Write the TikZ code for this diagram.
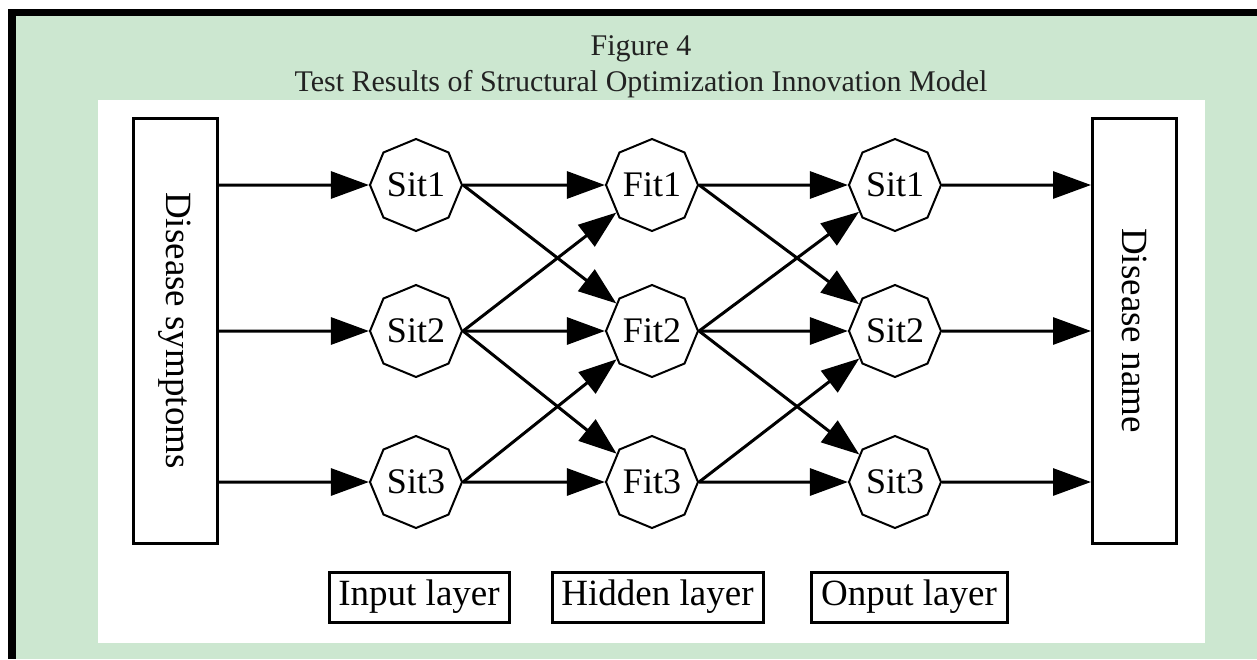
\documentclass[tikz,border=0pt]{standalone}
\usepackage{fontspec}
\setmainfont{Liberation Serif}
\usetikzlibrary{arrows.meta,shapes.geometric}

\definecolor{panelgreen}{RGB}{204,231,208}
\definecolor{titleink}{RGB}{34,34,34}

\tikzset{
    unit/.style={draw, line width=2pt, regular polygon, regular polygon sides=8,
        shape border rotate=22.5, minimum size=92pt, inner sep=0pt,
        font=\fontsize{36}{36}\selectfont},
    sidebox/.style={draw, line width=3pt, rotate=-90, minimum width=425pt,
        minimum height=84pt, inner sep=0pt, font=\fontsize{37}{37}\selectfont},
    layerbox/.style={draw, line width=3pt, minimum height=50pt, inner sep=0pt,
        font=\fontsize{37}{37}\selectfont},
    link/.style={line width=3pt, -{Triangle[length=38pt,width=27pt]}}
}

\begin{document}
\begin{tikzpicture}[x=1pt, y=-1pt]
        \useasboundingbox (0,0) rectangle (1257,659);

        % Panel and frame
        \fill[white] (0,0) rectangle (1257,659);
        \fill[black] (8,9) rectangle (1257,659);
        \fill[panelgreen] (16,16) rectangle (1257,659);
        \fill[white] (98,100) rectangle (1205,643);

        % Caption
        \node[anchor=base, text=titleink, font=\fontsize{30}{30}\selectfont] (figno) at (641,55) {Figure 4};
        \node[anchor=base, text=titleink, font=\fontsize{30}{30}\selectfont] (figtitle) at (641,91)
            {Test Results of Structural Optimization Innovation Model};

        % Side boxes
        \node[sidebox] (symp) at (175,330.5) {Disease symptoms};
        \node[sidebox] (dname) at (1134.5,330.5) {Disease name};

        % Three layers of units
        \foreach \i/\y in {1/185, 2/331, 3/482} {
            \node[unit] (in\i) at (416,\y) {Sit\i};
            \node[unit] (hid\i) at (652,\y) {Fit\i};
            \node[unit] (out\i) at (895,\y) {Sit\i};
        }

        % Connections
        \foreach \i in {1,2,3} {
            \draw[link] (symp.north |- in\i) -- (in\i);
            \draw[link] (out\i.east) -- (dname.south |- out\i);
        }
        \foreach \a/\b in {1/1, 1/2, 2/1, 2/2, 2/3, 3/2, 3/3} {
            \draw[link] (in\a.east) -- (hid\b);
            \draw[link] (hid\a.east) -- (out\b);
        }

        % Layer labels
        \node[layerbox, minimum width=180pt] (lblin) at (419,597) {Input layer};
        \node[layerbox, minimum width=211pt] (lblhid) at (657.5,597) {Hidden layer};
        \node[layerbox, minimum width=196pt] (lblout) at (909,597) {Onput layer};
    \end{tikzpicture}
\end{document}
